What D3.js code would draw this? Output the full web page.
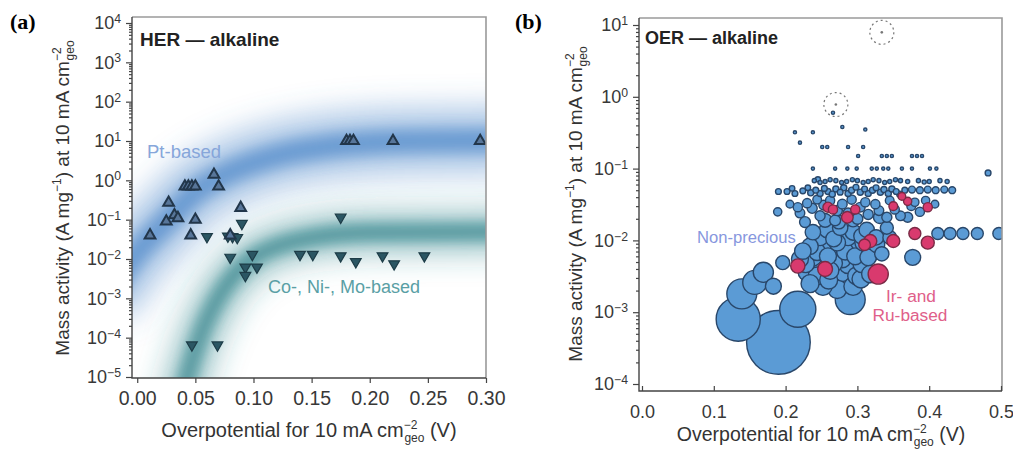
<!DOCTYPE html>
<html>
<head>
<meta charset="utf-8">
<script src="https://cdn.jsdelivr.net/npm/d3@7"></script>
<style>
  body { margin: 0; background: #fff; }
  svg { display: block; font-family: "Liberation Sans", Arial, Helvetica, sans-serif; }
</style>
</head>
<body>
<svg id="fig" width="1013" height="450"></svg>
<script>
// ---------------- HER (alkaline): [overpotential (V), mass activity (A mg-1)]
const ptBased = [
  [0.011, 0.040], [0.025, 0.090], [0.027, 0.27], [0.032, 0.13], [0.035, 0.11],
  [0.041, 0.70], [0.044, 0.70], [0.047, 0.70], [0.050, 0.70],
  [0.046, 0.040], [0.050, 0.10], [0.066, 1.4], [0.070, 0.70], [0.080, 0.040],
  [0.089, 0.20], [0.180, 10], [0.183, 10], [0.186, 10], [0.220, 10], [0.295, 10]
];
const coNiMoBased = [
  [0.047, 6.5e-5], [0.069, 6.5e-5], [0.060, 0.037], [0.078, 0.038], [0.082, 0.037],
  [0.086, 0.035], [0.090, 0.080], [0.080, 0.011], [0.099, 0.013], [0.093, 0.0062],
  [0.103, 0.0062], [0.093, 0.0038], [0.140, 0.013], [0.151, 0.013], [0.175, 0.115],
  [0.175, 0.012], [0.188, 0.0085], [0.211, 0.012], [0.221, 0.0075], [0.247, 0.012]
];
// trend bands (centre lines)
const ptTrend = [[-0.03, 0.0008], [0, 0.015], [0.025, 0.09], [0.05, 0.5], [0.075, 1.4],
  [0.10, 2.8], [0.13, 5], [0.16, 7], [0.20, 9], [0.25, 10], [0.33, 10.5]];
const coNiMoTrend = [[0.03, 2e-7], [0.043, 1e-5], [0.055, 1.3e-4], [0.07, 1.1e-3],
  [0.085, 4.5e-3], [0.10, 0.011], [0.12, 0.021], [0.15, 0.035], [0.20, 0.047], [0.33, 0.05]];

// ---------------- OER (alkaline): [overpotential (V), mass activity (A mg-1), loading (mg cm-2)]
const nonPrecious = [
  // large-loading electrodes
  [0.190, 0.00038, 24], [0.134, 0.0008, 11.5], [0.217, 0.0011, 7.7], [0.139, 0.0018, 5.3],
  [0.157, 0.0026, 3.4], [0.169, 0.0036, 2.4], [0.183, 0.0023, 1.5], [0.196, 0.0049, 1.16],
  [0.290, 0.0015, 5.3], [0.377, 0.0058, 1.5],
  [0.412, 0.0125, 0.85], [0.429, 0.0125, 0.85], [0.447, 0.0125, 0.85], [0.467, 0.0125, 0.85], [0.497, 0.0125, 0.85],
  // main cluster
  [0.238, 0.013, 1.4], [0.258, 0.014, 1.5], [0.276, 0.015, 1.4], [0.294, 0.013, 1.5], [0.313, 0.014, 1.4],
  [0.248, 0.011, 1.6], [0.267, 0.0105, 1.5], [0.287, 0.011, 1.6], [0.306, 0.0115, 1.5], [0.326, 0.011, 1.4],
  [0.234, 0.0083, 1.6], [0.252, 0.0087, 1.7], [0.272, 0.0093, 1.6], [0.290, 0.0083, 1.7], [0.308, 0.0093, 1.6], [0.327, 0.0087, 1.5],
  [0.224, 0.0071, 1.6], [0.244, 0.0069, 1.7], [0.263, 0.0073, 1.8], [0.283, 0.0070, 1.7], [0.302, 0.0072, 1.8], [0.322, 0.0069, 1.6],
  [0.220, 0.0055, 1.7], [0.238, 0.0058, 1.8], [0.259, 0.0060, 1.7], [0.279, 0.0055, 1.8], [0.297, 0.0060, 1.7], [0.315, 0.0058, 1.6],
  [0.228, 0.0047, 1.8], [0.248, 0.0045, 1.9], [0.267, 0.0048, 1.8], [0.287, 0.0046, 1.9], [0.306, 0.0047, 1.8],
  [0.230, 0.0036, 1.9], [0.244, 0.0032, 1.9], [0.262, 0.0038, 1.8], [0.280, 0.0036, 2.0], [0.299, 0.0032, 1.9], [0.318, 0.0034, 1.8],
  [0.241, 0.0029, 2.0], [0.260, 0.0028, 1.9], [0.305, 0.0029, 1.9],
  [0.234, 0.0025, 1.9], [0.252, 0.0023, 2.0], [0.272, 0.0021, 2.1], [0.294, 0.0023, 2.0],
  [0.255, 0.019, 1.1], [0.274, 0.018, 1.1], [0.294, 0.019, 1.0],
  [0.331, 0.021, 0.9], [0.341, 0.015, 1.0], [0.334, 0.0065, 1.2], [0.345, 0.011, 1.1],
  // upper cluster
  [0.189, 0.025, 0.4], [0.206, 0.032, 0.35], [0.217, 0.029, 0.5], [0.220, 0.024, 0.55], [0.227, 0.018, 0.7],
  [0.230, 0.033, 0.5], [0.237, 0.028, 0.6], [0.244, 0.037, 0.45], [0.248, 0.022, 0.6], [0.253, 0.031, 0.55],
  [0.262, 0.036, 0.5], [0.269, 0.019, 0.7], [0.272, 0.026, 0.6], [0.279, 0.032, 0.55], [0.287, 0.024, 0.6],
  [0.292, 0.037, 0.5], [0.300, 0.020, 0.7], [0.304, 0.029, 0.55], [0.311, 0.034, 0.5], [0.315, 0.023, 0.6],
  [0.325, 0.032, 0.5], [0.330, 0.026, 0.55], [0.341, 0.021, 0.6], [0.345, 0.036, 0.45], [0.352, 0.027, 0.5],
  [0.360, 0.022, 0.55], [0.370, 0.021, 0.6], [0.375, 0.030, 0.45], [0.380, 0.034, 0.4], [0.387, 0.025, 0.5],
  [0.395, 0.036, 0.4], [0.408, 0.032, 0.35],
  // band near 0.05 A mg-1
  [0.190, 0.048, 0.2], [0.202, 0.048, 0.2], [0.209, 0.053, 0.18], [0.213, 0.045, 0.2], [0.224, 0.049, 0.2],
  [0.231, 0.054, 0.18], [0.235, 0.046, 0.22], [0.242, 0.050, 0.2], [0.248, 0.045, 0.22], [0.254, 0.053, 0.2],
  [0.259, 0.048, 0.22], [0.265, 0.044, 0.22], [0.270, 0.052, 0.22], [0.276, 0.047, 0.2], [0.281, 0.054, 0.22],
  [0.287, 0.045, 0.22], [0.292, 0.050, 0.22], [0.298, 0.055, 0.2], [0.304, 0.047, 0.22], [0.310, 0.052, 0.2],
  [0.315, 0.045, 0.22], [0.321, 0.050, 0.22], [0.326, 0.054, 0.2], [0.332, 0.047, 0.22], [0.337, 0.051, 0.22],
  [0.343, 0.045, 0.22], [0.348, 0.052, 0.22], [0.354, 0.048, 0.2], [0.359, 0.044, 0.22], [0.366, 0.050, 0.2],
  [0.376, 0.051, 0.28], [0.387, 0.050, 0.28], [0.398, 0.051, 0.28], [0.409, 0.050, 0.28], [0.421, 0.051, 0.28],
  [0.432, 0.050, 0.28], [0.245, 0.071, 0.16],
  // row near 0.07 A mg-1
  [0.240, 0.068, 0.1], [0.248, 0.064, 0.1], [0.255, 0.066, 0.1], [0.262, 0.070, 0.1], [0.270, 0.068, 0.1],
  [0.278, 0.064, 0.1], [0.285, 0.066, 0.1], [0.293, 0.070, 0.1], [0.300, 0.068, 0.1], [0.308, 0.064, 0.1],
  [0.315, 0.066, 0.1], [0.322, 0.070, 0.1], [0.330, 0.068, 0.1], [0.338, 0.064, 0.1], [0.345, 0.066, 0.1],
  [0.353, 0.070, 0.1], [0.360, 0.068, 0.1], [0.370, 0.066, 0.1], [0.385, 0.068, 0.1], [0.393, 0.065, 0.1],
  [0.400, 0.066, 0.1], [0.415, 0.068, 0.1], [0.425, 0.066, 0.1],
  // high-activity, low-loading samples
  [0.213, 0.32, 0.06], [0.220, 0.23, 0.06], [0.238, 0.32, 0.06], [0.279, 0.38, 0.06], [0.311, 0.35, 0.06], [0.266, 0.60, 0.06],
  [0.251, 0.20, 0.06], [0.258, 0.20, 0.06], [0.287, 0.20, 0.06], [0.308, 0.20, 0.06],
  [0.301, 0.15, 0.06], [0.334, 0.15, 0.06], [0.341, 0.15, 0.06], [0.348, 0.15, 0.06], [0.376, 0.15, 0.06], [0.383, 0.15, 0.06], [0.390, 0.15, 0.06],
  [0.238, 0.10, 0.06], [0.269, 0.10, 0.06], [0.286, 0.10, 0.06], [0.299, 0.10, 0.06], [0.320, 0.10, 0.06], [0.327, 0.10, 0.06],
  [0.336, 0.10, 0.06], [0.343, 0.10, 0.06], [0.362, 0.10, 0.06], [0.376, 0.10, 0.06], [0.401, 0.10, 0.06], [0.410, 0.10, 0.06],
  [0.482, 0.087, 0.2]
];
const irRuBased = [
  [0.217, 0.0044, 1.2], [0.255, 0.0040, 1.3], [0.329, 0.0034, 2.4], [0.318, 0.0098, 1.0], [0.350, 0.0098, 1.0],
  [0.380, 0.0125, 0.85], [0.398, 0.0093, 1.0], [0.310, 0.0087, 0.8],
  [0.266, 0.027, 0.5], [0.297, 0.027, 0.5], [0.350, 0.030, 0.45], [0.370, 0.035, 0.4], [0.398, 0.029, 0.5],
  [0.259, 0.029, 0.6], [0.286, 0.021, 0.8], [0.362, 0.041, 0.35]
];
const highlighted = [[0.270, 0.78], [0.334, 7.9]];

// ---------------- ticks
const herEtaTicks = [0, 0.05, 0.10, 0.15, 0.20, 0.25, 0.30];
const herActTicks = [1e-5, 1e-4, 1e-3, 1e-2, 1e-1, 1e0, 1e1, 1e2, 1e3, 1e4];
const oerEtaTicks = [0, 0.1, 0.2, 0.3, 0.4, 0.5];
const oerActTicks = [1e-4, 1e-3, 1e-2, 1e-1, 1e0, 1e1];

const W = 1013, H = 450;
const svg = d3.select("#fig");
const defs = svg.append("defs");
[["blurWide", 15], ["blurCore", 7]].forEach(([id, s]) => {
  defs.append("filter").attr("id", id).attr("filterUnits", "userSpaceOnUse")
    .attr("x", 0).attr("y", 0).attr("width", W).attr("height", H)
    .append("feGaussianBlur").attr("stdDeviation", s);
});

const A = { left: 132, right: 486, top: 17, bottom: 378 };
const B = { left: 639, right: 1002, top: 18, bottom: 391 };
const xA = d3.scaleLinear().domain([-0.0045, 0.30]).range([A.left, A.right]);
const yA = d3.scaleLog().domain([1e-5, 1e4]).range([377, 23]);
const xB = d3.scaleLinear().domain([0, 0.5]).range([642, 1001]);
const yB = d3.scaleLog().domain([1e-4, 10]).range([384, 25]);
const rB = d3.scaleSqrt().domain([0, 1]).range([0, 6.5]);

function clipFor(id, P) {
  defs.append("clipPath").attr("id", id).append("rect")
    .attr("x", P.left).attr("y", P.top).attr("width", P.right - P.left).attr("height", P.bottom - P.top);
}
clipFor("clipA", A); clipFor("clipB", B);

function minorTicks(lo, hi) {
  const out = [];
  for (let e = lo; e < hi; e++) for (let k = 2; k <= 9; k++) out.push(k * Math.pow(10, e));
  return out;
}
function supLabels(g) {
  g.selectAll(".tick text").each(function (d) {
    const e = Math.round(Math.log10(d));
    const t = d3.select(this).text(null);
    t.append("tspan").text("10");
    t.append("tspan").attr("dy", "-0.5em").attr("font-size", "0.68em")
      .text(e < 0 ? "\u2212" + (-e) : String(e));
  });
}
function styleAxis(size) {
  return g => {
    g.attr("font-family", null).attr("font-size", size);
    g.select(".domain").remove();
    g.selectAll(".tick line").attr("stroke", "#444").attr("stroke-width", 1.2);
    g.selectAll(".tick text").attr("fill", "#383838");
  };
}
function frame(P) {
  svg.append("path").attr("fill", "none").attr("stroke", "#9a9a9a").attr("stroke-width", 1.6)
    .attr("d", `M${P.left},${P.top}H${P.right}V${P.bottom}`);
  svg.append("path").attr("fill", "none").attr("stroke", "#444").attr("stroke-width", 1.4)
    .attr("d", `M${P.left},${P.top}V${P.bottom}H${P.right}`);
}

// ================= panel (a)
const gA = svg.append("g").attr("clip-path", "url(#clipA)");
const bandLine = d3.line().x(d => xA(d[0])).y(d => yA(d[1])).curve(d3.curveMonotoneX);
function band(pts, color, wide, core, coreOpacity) {
  gA.append("path").attr("d", bandLine(pts)).attr("fill", "none").attr("stroke", color)
    .attr("stroke-width", wide).attr("stroke-opacity", 0.45).attr("filter", "url(#blurWide)");
  gA.append("path").attr("d", bandLine(pts)).attr("fill", "none").attr("stroke", color)
    .attr("stroke-width", core).attr("stroke-opacity", coreOpacity).attr("filter", "url(#blurCore)");
}
band(ptTrend, "#4a86c8", 66, 24, 0.65);
band(coNiMoTrend, "#2e828a", 42, 16, 0.75);

const tri = d3.symbol().type(d3.symbolTriangle).size(50);
gA.selectAll(".down").data(coNiMoBased).join("path")
  .attr("transform", d => `translate(${xA(d[0])},${yA(d[1])}) rotate(180)`)
  .attr("d", tri).attr("fill", "#2b5663").attr("stroke", "#1d3c47").attr("stroke-width", 1.2);
gA.selectAll(".up").data(ptBased).join("path")
  .attr("transform", d => `translate(${xA(d[0])},${yA(d[1])})`)
  .attr("d", tri).attr("fill", "#58769a").attr("stroke", "#22364a").attr("stroke-width", 2);

frame(A);
svg.append("g").attr("transform", `translate(${A.left},0)`)
  .call(d3.axisLeft(yA).tickValues(minorTicks(-5, 4)).tickSize(3).tickFormat(""))
  .call(styleAxis(18));
svg.append("g").attr("transform", `translate(${A.left},0)`)
  .call(d3.axisLeft(yA).tickValues(herActTicks).tickSize(6).tickPadding(5))
  .call(styleAxis(18)).call(supLabels);
svg.append("g").attr("transform", `translate(0,${A.bottom})`)
  .call(d3.axisBottom(xA).tickValues(herEtaTicks).tickSize(5).tickFormat(d3.format(".2f")))
  .call(styleAxis(19.5))
  .call(g => g.selectAll(".tick text").attr("y", 13));

// ================= panel (b)
const gB = svg.append("g").attr("clip-path", "url(#clipB)");
function bubbles(data, fill, stroke) {
  gB.append("g").selectAll("circle")
    .data(data.slice().sort((a, b) => b[2] - a[2])).join("circle")
    .attr("cx", d => xB(d[0])).attr("cy", d => yB(d[1])).attr("r", d => rB(d[2]))
    .attr("fill", fill).attr("stroke", stroke).attr("stroke-width", 1.4);
}
bubbles(nonPrecious, "#5b9bd5", "#29476a");
bubbles(irRuBased, "#d93a6e", "#7a2a45");
gB.selectAll(".hl").data(highlighted).join("circle")
  .attr("cx", d => xB(d[0])).attr("cy", d => yB(d[1])).attr("r", 12)
  .attr("fill", "none").attr("stroke", "#777").attr("stroke-width", 1.2).attr("stroke-dasharray", "2,3");
gB.selectAll(".hlc").data(highlighted).join("circle")
  .attr("cx", d => xB(d[0])).attr("cy", d => yB(d[1])).attr("r", 1.3).attr("fill", "#777");

frame(B);
svg.append("g").attr("transform", `translate(${B.left},0)`)
  .call(d3.axisLeft(yB).tickValues(minorTicks(-4, 1)).tickSize(3).tickFormat(""))
  .call(styleAxis(18));
svg.append("g").attr("transform", `translate(${B.left},0)`)
  .call(d3.axisLeft(yB).tickValues(oerActTicks).tickSize(6).tickPadding(5))
  .call(styleAxis(18)).call(supLabels);
svg.append("g").attr("transform", `translate(0,${B.bottom})`)
  .call(d3.axisBottom(xB).tickValues(oerEtaTicks).tickSize(-5).tickFormat(d3.format(".1f")))
  .call(styleAxis(18))
  .call(g => g.selectAll(".tick text").attr("y", 14.5));

// ================= text
function xTitle(cx, y, size) {
  const t = svg.append("text").attr("x", cx).attr("y", y).attr("text-anchor", "middle")
    .attr("font-size", size).attr("fill", "#333");
  t.append("tspan").text("Overpotential for 10 mA cm");
  t.append("tspan").attr("dy", -8).attr("font-size", 12).text("\u22122");
  t.append("tspan").attr("dx", -13).attr("dy", 13).attr("font-size", 12).text("geo");
  t.append("tspan").attr("dy", -5).text(" (V)");
}
function yTitle(x, cy) {
  const t = svg.append("text").attr("transform", `translate(${x},${cy}) rotate(-90)`)
    .attr("text-anchor", "middle").attr("font-size", 19).attr("fill", "#333");
  t.append("tspan").text("Mass activity (A mg");
  t.append("tspan").attr("dy", -8).attr("font-size", 12).text("\u22121");
  t.append("tspan").attr("dy", 8).text(") at 10 mA cm");
  t.append("tspan").attr("dy", -8).attr("font-size", 12).text("\u22122");
  t.append("tspan").attr("dx", -13).attr("dy", 13).attr("font-size", 12).text("geo");
}
xTitle(309, 437, 20);
xTitle(821, 441, 19.5);
yTitle(69, 198);
yTitle(582, 204);

svg.append("text").attr("x", 10).attr("y", 29).attr("font-family", '"Liberation Serif", serif')
  .attr("font-weight", "bold").attr("font-size", 22).text("(a)");
svg.append("text").attr("x", 515).attr("y", 29).attr("font-family", '"Liberation Serif", serif')
  .attr("font-weight", "bold").attr("font-size", 22).text("(b)");

svg.append("text").attr("x", 140).attr("y", 46).attr("font-weight", "bold").attr("font-size", 19)
  .attr("fill", "#222").text("HER \u2014 alkaline");
svg.append("text").attr("x", 645).attr("y", 44).attr("font-weight", "bold").attr("font-size", 18)
  .attr("fill", "#222").text("OER \u2014 alkaline");
svg.append("text").attr("x", 147).attr("y", 158).attr("font-size", 18.5).attr("fill", "#86a6da").text("Pt-based");
svg.append("text").attr("x", 268).attr("y", 293).attr("font-size", 18).attr("fill", "#5a9fa5").text("Co-, Ni-, Mo-based");
svg.append("text").attr("x", 697).attr("y", 243).attr("font-size", 16.6).attr("fill", "#8797de").text("Non-precious");
svg.append("text").attr("x", 911).attr("y", 302).attr("text-anchor", "middle").attr("font-size", 17.3).attr("fill", "#e0608a").text("Ir- and");
svg.append("text").attr("x", 910).attr("y", 321).attr("text-anchor", "middle").attr("font-size", 17.3).attr("fill", "#e0608a").text("Ru-based");
</script>
</body>
</html>
